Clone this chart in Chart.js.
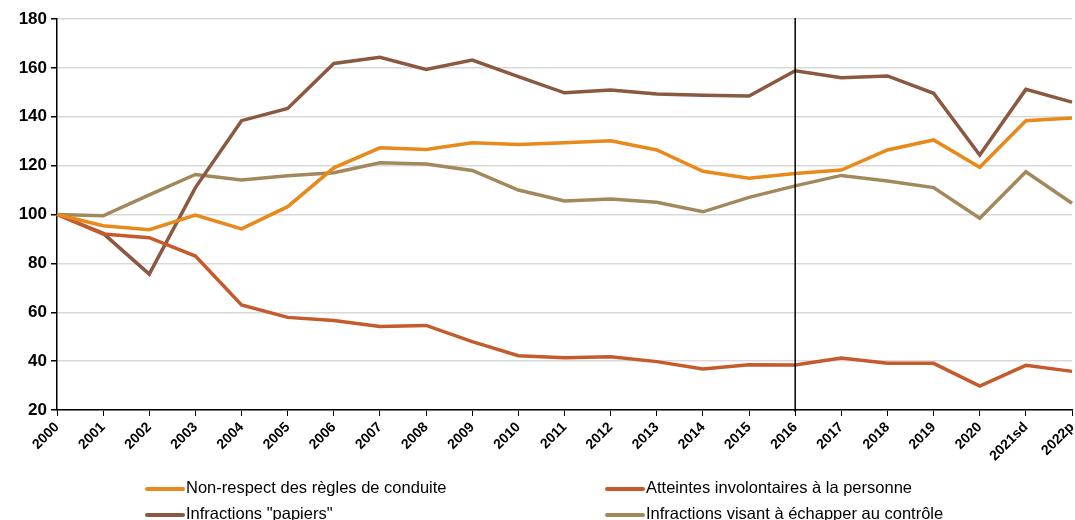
<!DOCTYPE html>
<html>
<head>
<meta charset="utf-8">
<script src="https://cdn.jsdelivr.net/npm/chart.js@4/dist/chart.umd.min.js"></script>
<style>
  body { margin: 0; background: #fff; }
  #wrap { position: relative; width: 1075px; height: 520px; }
  #legende { position: absolute; left: 0; top: 476px; width: 1075px; font-family: "Liberation Sans", Arial, sans-serif; font-size: 16.5px; color: #000; }
  .item { position: absolute; height: 22px; line-height: 22px; white-space: nowrap; }
  .item span.trait { display: inline-block; width: 40px; height: 4px; vertical-align: middle; margin-right: 1px; border-radius: 2px; }
</style>
</head>
<body>
<div id="wrap">
  <canvas id="graphique" width="1075" height="520"></canvas>
  <div id="legende"></div>
</div>
<script>
var annees = ['2000', '2001', '2002', '2003', '2004', '2005', '2006', '2007', '2008', '2009', '2010',
    '2011', '2012', '2013', '2014', '2015', '2016', '2017', '2018', '2019', '2020', '2021sd', '2022p'];

// indices base 100 en 2000
var nonRespect = [100, 95.4, 93.8, 99.8, 94.1, 103.2, 119.1, 127.3, 126.6, 129.4, 128.6,
    129.4, 130.2, 126.4, 117.7, 114.8, 116.8, 118.2, 126.4, 130.5, 119.3, 138.4, 139.5];
var atteintes = [100, 92.0, 90.5, 83.0, 63.0, 57.9, 56.6, 54.2, 54.6, 48.0, 42.2,
    41.4, 41.8, 39.8, 36.8, 38.5, 38.4, 41.3, 39.1, 39.1, 29.8, 38.3, 35.8];
var papiers = [100, 92.3, 75.6, 111.0, 138.4, 143.4, 161.8, 164.3, 159.4, 163.2, 156.4,
    149.8, 150.9, 149.3, 148.8, 148.5, 158.8, 156.0, 156.7, 149.6, 124.3, 151.2, 146.0];
var echapper = [100, 99.5, 108.0, 116.4, 114.1, 115.9, 117.1, 121.2, 120.7, 118.0, 110.0,
    105.5, 106.3, 105.0, 101.1, 107.0, 111.7, 116.0, 113.7, 111.0, 98.5, 117.5, 104.6];

var ticksY = [20, 40, 60, 80, 100, 120, 140, 160, 180];
var anneeRupture = '2016';

var series = [
    { nom: 'Non-respect des règles de conduite', valeurs: nonRespect, couleur: '#E8891B' },
    { nom: 'Atteintes involontaires à la personne', valeurs: atteintes, couleur: '#C55A2C' },
    { nom: 'Infractions "papiers"', valeurs: papiers, couleur: '#8B5842' },
    { nom: 'Infractions visant à échapper au contrôle', valeurs: echapper, couleur: '#A2895D' }
];

// trait vertical de rupture de série
var ligneRupture = {
    id: 'ligneRupture',
    afterDatasetsDraw: function (chart) {
        var x = chart.scales.x.getPixelForValue(annees.indexOf(anneeRupture));
        var ctx = chart.ctx;
        ctx.save();
        ctx.strokeStyle = '#000';
        ctx.lineWidth = 1.5;
        ctx.beginPath();
        ctx.moveTo(x, chart.chartArea.top - 1);
        ctx.lineTo(x, chart.chartArea.bottom + 2);
        ctx.stroke();
        ctx.restore();
    }
};

var ctx = document.getElementById('graphique').getContext('2d');
var graphique = new Chart(ctx, {
    type: 'line',
    data: {
        labels: annees,
        datasets: series.map(function (s) {
            return {
                label: s.nom,
                data: s.valeurs,
                borderColor: s.couleur,
                backgroundColor: s.couleur,
                borderWidth: 3.5,
                pointRadius: 0,
                tension: 0
            };
        })
    },
    options: {
        responsive: false,
        animation: false,
        layout: { padding: { top: 19, right: 3, left: 0, bottom: 0 } },
        plugins: {
            legend: { display: false },
            tooltip: { enabled: false }
        },
        scales: {
            x: {
                offset: false,
                grid: { drawOnChartArea: false, color: '#000', tickLength: 6 },
                border: { color: '#000', width: 1.5 },
                ticks: {
                    autoSkip: false,
                    maxRotation: 45,
                    minRotation: 45,
                    color: '#000',
                    padding: 3,
                    font: { family: 'Liberation Sans', size: 14, weight: 'bold' }
                },
                afterFit: function (scale) {
                    scale.height = 110;
                    scale.paddingLeft = 0;
                    scale.paddingRight = 0;
                }
            },
            y: {
                min: 20,
                max: 180,
                afterBuildTicks: function (scale) {
                    scale.ticks = ticksY.map(function (v) { return { value: v }; });
                },
                grid: { color: '#d9d9d9', lineWidth: 1.5, tickColor: '#000', tickLength: 6 },
                border: { color: '#000', width: 1.5 },
                ticks: {
                    color: '#000',
                    padding: 4,
                    font: { family: 'Liberation Sans', size: 17, weight: 'bold' }
                },
                afterFit: function (scale) { scale.width = 57; }
            }
        }
    },
    plugins: [ligneRupture]
});

// légende sur deux colonnes
var positions = [[145, 0], [605, 0], [145, 26], [605, 26]];
var legende = document.getElementById('legende');
series.forEach(function (s, i) {
    var el = document.createElement('div');
    el.className = 'item';
    el.style.left = positions[i][0] + 'px';
    el.style.top = positions[i][1] + 'px';
    el.innerHTML = '<span class="trait" style="background:' + s.couleur + '"></span>' + s.nom;
    legende.appendChild(el);
});
</script>
</body>
</html>
